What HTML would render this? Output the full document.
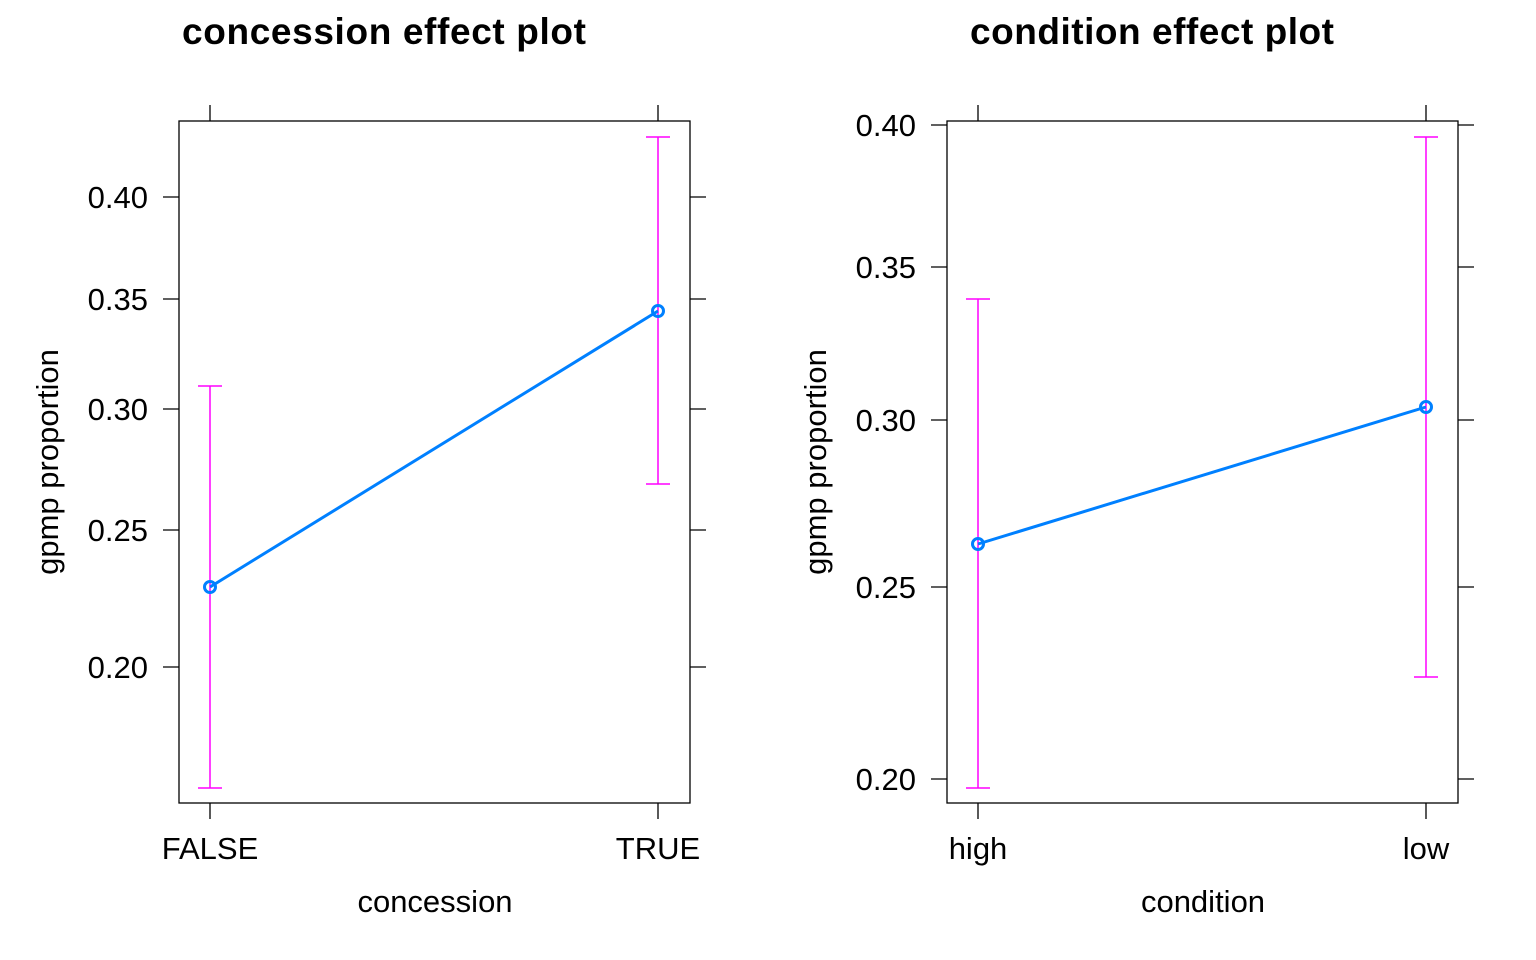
<!DOCTYPE html>
<html><head><style>body{margin:0;background:#fff}svg{display:block}text{font-family:"Liberation Sans",sans-serif;fill:#000}</style></head>
<body>
<svg width="1536" height="960" viewBox="0 0 1536 960" xmlns="http://www.w3.org/2000/svg">
<g stroke="#000" stroke-width="1.3" fill="none">
<rect x="179" y="121" width="511" height="682"/>
<path d="M163 197H179M163 299H179M163 409H179M163 530H179M163 667H179M690 197H706M690 299H706M690 409H706M690 530H706M690 667H706M210 105V121M658 105V121M210 803V819M658 803V819"/>
<rect x="947" y="121" width="511" height="682"/>
<path d="M931 125H947M931 267H947M931 420H947M931 587H947M931 779H947M1458 125H1474M1458 267H1474M1458 420H1474M1458 587H1474M1458 779H1474M978 105V121M1426 105V121M978 803V819M1426 803V819"/>
</g>
<g stroke="#ff00ff" stroke-width="1.5" fill="none">
<path d="M210 386V788M198 386H222M198 788H222M658 137V484M646 137H670M646 484H670"/>
<path d="M978 299V788M966 299H990M966 788H990M1426 137V677M1414 137H1438M1414 677H1438"/>
</g>
<g stroke="#0080ff" stroke-width="3" fill="none">
<path d="M210 587L658 311"/><circle cx="210" cy="587" r="5.5"/><circle cx="658" cy="311" r="5.5"/>
<path d="M978 544L1426 407"/><circle cx="978" cy="544" r="5.5"/><circle cx="1426" cy="407" r="5.5"/>
</g>
<g font-size="37" font-weight="bold" text-anchor="middle">
<text x="384" y="44" textLength="404">concession effect plot</text>
<text x="1152" y="44" textLength="364">condition effect plot</text>
</g>
<g font-size="31" text-anchor="end">
<text x="148" y="208">0.40</text><text x="148" y="310">0.35</text><text x="148" y="420">0.30</text><text x="148" y="541">0.25</text><text x="148" y="678">0.20</text>
<text x="916" y="136">0.40</text><text x="916" y="278">0.35</text><text x="916" y="431">0.30</text><text x="916" y="598">0.25</text><text x="916" y="790">0.20</text>
</g>
<g font-size="31" text-anchor="middle">
<text x="210" y="859">FALSE</text><text x="658" y="859">TRUE</text>
<text x="978" y="859">high</text><text x="1426" y="859">low</text>
<text x="435" y="912">concession</text><text x="1203" y="912">condition</text>
<text transform="translate(58,462) rotate(-90)">gpmp proportion</text>
<text transform="translate(826,462) rotate(-90)">gpmp proportion</text>
</g>
</svg>
</body></html>
